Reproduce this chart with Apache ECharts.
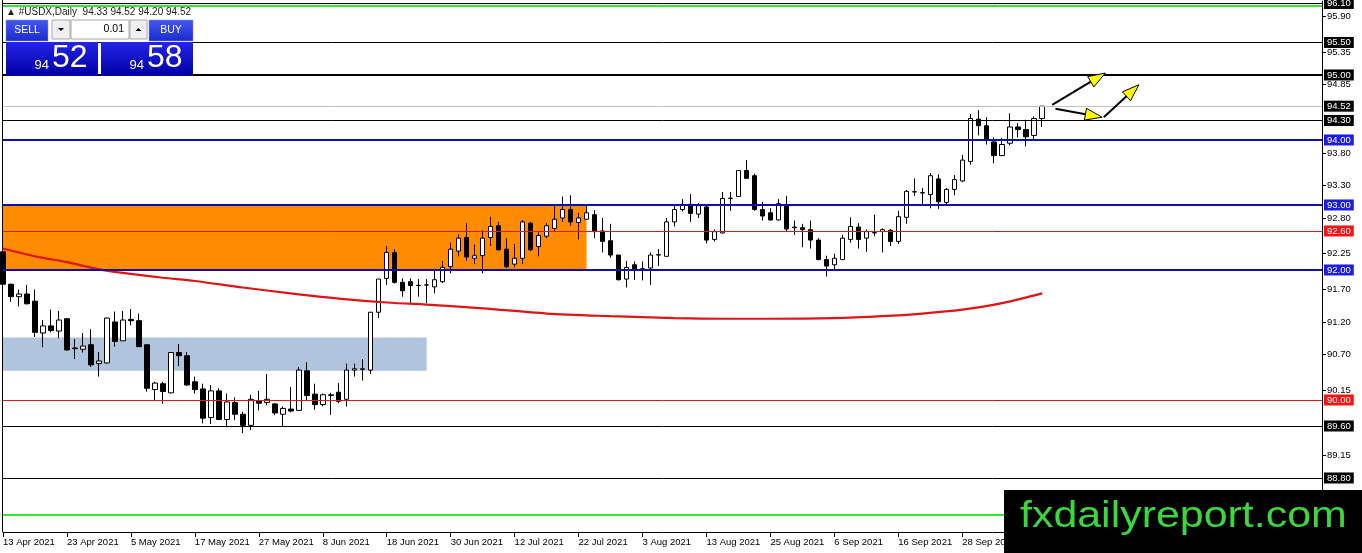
<!DOCTYPE html>
<html>
<head>
<meta charset="utf-8">
<title>#USDX,Daily</title>
<script src="https://cdn.jsdelivr.net/npm/echarts@6/dist/echarts.min.js"></script>
<style>
html, body { margin: 0; padding: 0; background: #fff; }
#main { width: 1362px; height: 553px; }
</style>
</head>
<body>
<div id="main"></div>
<script>
// daily bars 13 Apr 2021 .. 12 Oct 2021 (131 bars)
var opens = [92.28,91.78,91.59,91.63,91.52,91.03,91.14,91.06,91.25,90.79,
    90.78,90.85,90.56,90.57,91.20,90.91,91.24,91.22,90.85,90.16,
    90.25,90.11,90.73,90.68,90.28,90.17,89.73,90.14,89.70,89.96,
    89.78,89.61,89.99,89.96,89.94,89.78,89.86,89.84,90.45,90.09,
    89.93,90.07,90.12,90.01,90.46,90.47,90.46,91.35,91.87,92.27,
    91.81,91.82,91.76,91.77,91.74,91.82,92.05,92.29,92.50,92.18,
    92.22,92.50,92.68,92.32,92.09,92.18,92.72,92.36,92.52,92.64,
    92.80,92.93,92.73,92.78,92.85,92.60,92.45,92.23,91.86,92.08,
    92.02,92.03,92.23,92.21,92.74,92.93,93.01,92.86,92.97,92.47,
    92.57,93.10,93.13,93.53,93.45,92.93,92.88,92.77,92.99,92.66,
    92.65,92.62,92.46,92.16,92.08,92.16,92.47,92.66,92.49,92.57,
    92.59,92.61,92.44,92.81,93.20,93.19,93.16,93.40,93.04,93.24,
    93.37,93.67,94.32,94.22,93.97,93.76,93.95,94.20,94.16,94.07,
    94.33];
var highs = [92.32,91.79,91.70,91.77,91.70,91.23,91.39,91.37,91.26,90.94,
    91.03,91.09,90.74,91.27,91.36,91.37,91.40,91.33,90.85,90.28,
    90.28,90.74,90.86,90.74,90.36,90.25,90.23,90.18,90.10,90.04,
    89.82,90.08,90.14,90.40,89.95,89.90,90.20,90.51,90.58,90.25,
    90.10,90.11,90.26,90.56,90.56,90.63,91.35,91.86,92.37,92.32,
    91.87,91.87,91.86,91.86,91.99,92.14,92.42,92.55,92.72,92.39,
    92.61,92.82,92.74,92.49,92.40,92.77,92.74,92.58,92.72,92.99,
    93.13,93.15,92.88,92.99,92.92,92.80,92.71,92.23,92.14,92.13,
    92.13,92.27,92.32,92.80,93.00,93.09,93.17,93.03,92.99,92.62,
    93.20,93.20,93.53,93.69,93.48,93.05,92.95,93.09,93.14,92.76,
    92.71,92.76,92.49,92.22,92.25,92.54,92.81,92.72,92.62,92.85,
    92.64,92.63,92.91,93.23,93.41,93.26,93.49,93.47,93.26,93.46,
    93.77,94.40,94.46,94.35,94.04,94.03,94.41,94.26,94.31,94.36,
    94.52];
var lows = [91.75,91.51,91.44,91.47,90.97,90.81,91.04,90.95,90.76,90.63,
    90.73,90.51,90.36,90.56,90.82,90.91,91.15,90.82,90.13,89.99,
    89.94,90.10,90.52,90.22,90.10,89.64,89.63,89.69,89.58,89.69,
    89.49,89.54,89.84,89.92,89.77,89.60,89.81,89.84,89.99,89.85,
    89.90,89.77,89.95,89.90,90.36,90.30,90.40,91.26,91.77,91.79,
    91.59,91.49,91.59,91.49,91.64,91.80,91.95,92.21,92.14,92.09,
    91.95,92.37,92.30,92.03,92.04,92.09,92.29,92.21,92.49,92.59,
    92.74,92.68,92.47,92.78,92.49,92.27,92.19,91.84,91.73,91.85,
    91.84,91.77,92.06,92.21,92.67,92.90,92.74,92.80,92.41,92.44,
    92.56,92.91,93.12,93.41,92.91,92.76,92.76,92.76,92.59,92.54,
    92.35,92.33,92.15,91.90,92.00,92.15,92.42,92.33,92.28,92.52,
    92.27,92.37,92.40,92.71,93.14,93.00,92.95,92.94,92.99,93.15,
    93.35,93.62,94.07,93.93,93.64,93.75,93.92,94.04,93.90,94.00,
    94.20];
var closes = [91.78,91.59,91.63,91.48,91.04,91.14,91.07,91.23,90.77,90.80,
    90.83,90.54,90.60,91.26,90.90,91.23,91.22,90.82,90.18,90.26,
    90.13,90.73,90.68,90.23,90.16,89.72,90.14,89.70,89.97,89.78,
    89.61,90.01,89.95,90.01,89.80,89.87,89.83,90.46,90.07,89.93,
    90.08,90.08,89.98,90.46,90.48,90.48,91.35,91.86,92.27,91.81,
    91.68,91.76,91.765,91.77,91.85,92.04,92.32,92.49,92.20,92.22,
    92.49,92.67,92.31,92.05,92.18,92.74,92.31,92.53,92.68,92.78,
    92.93,92.74,92.80,92.88,92.59,92.44,92.23,91.85,92.04,92.02,
    92.00,92.23,92.235,92.74,92.93,93.01,92.87,92.99,92.46,92.59,
    93.10,93.105,93.53,93.41,92.93,92.83,92.77,93.02,92.63,92.65,
    92.62,92.46,92.16,92.06,92.18,92.49,92.67,92.47,92.59,92.575,
    92.62,92.44,92.82,93.21,93.205,93.185,93.45,93.05,93.24,93.39,
    93.69,94.33,94.22,94.01,93.76,93.93,94.20,94.16,94.05,94.33,
    94.52];

// moving average, read at a few bars
var maIdx = [0, 4, 8, 12, 16, 20, 24, 30, 36, 42, 48, 54, 60, 68, 76, 84, 90, 96, 104, 110, 115, 120, 125, 130];
var maVal = [92.33, 92.21, 92.12, 92.01, 91.94, 91.88, 91.83, 91.73, 91.64, 91.56, 91.50, 91.46, 91.41,
    91.33, 91.29, 91.26, 91.25, 91.25, 91.26, 91.29, 91.33, 91.39, 91.49, 91.64];

// horizontal levels
var blackLevels = [96.10, 95.50, 94.30, 89.60, 88.80];
var thickLevels = [95.00];
var bidLevels = [94.52];
var blueLevels = [94.00, 93.00, 92.00];
var redLevels = [92.60, 90.00];
var greenLevels = [96.06, 88.24];

// zones: start bar, end bar, low, high
var zoneStart = [0, 0];
var zoneEnd = [73, 53];
var zoneLow = [92.00, 90.45];
var zoneHigh = [93.00, 90.96];

// arrows (bar, price)
var arrowFromX = [131.25, 131.66, 137.7];
var arrowFromY = [94.54, 94.48, 94.35];
var arrowToX = [137.9, 137.5, 142.1];
var arrowToY = [95.03, 94.35, 94.85];

var axisValues = [95.90, 95.35, 94.85, 93.80, 93.30, 92.80, 92.25, 91.70, 91.20, 90.70, 90.15, 89.15];
var tickLabels = ['13 Apr 2021', '23 Apr 2021', '5 May 2021', '17 May 2021', '27 May 2021', '8 Jun 2021',
    '18 Jun 2021', '30 Jun 2021', '12 Jul 2021', '22 Jul 2021', '3 Aug 2021', '13 Aug 2021',
    '25 Aug 2021', '6 Sep 2021', '16 Sep 2021', '28 Sep 2021', '8 Oct 2021', '20 Oct 2021',
    '1 Nov 2021', '11 Nov 2021', '23 Nov 2021'];

var totalSlots = 166;
var FONT = 'Liberation Sans, Arial, sans-serif';

var categories = [];
var bars = [];
for (var i = 0; i < totalSlots; i++) {
    categories.push(String(i));
    if (i < opens.length) {
        bars.push([opens[i], closes[i], lows[i], highs[i]]);
    } else {
        bars.push('-');
    }
}

function levelItems(values, color, width, box, showLabel) {
    return values.map(function (v) {
        return {
            yAxis: v,
            lineStyle: { color: color, width: width, type: 'solid' },
            label: {
                show: showLabel,
                position: 'end',
                distance: 2,
                formatter: function () { return v.toFixed(2); },
                color: '#fff',
                backgroundColor: box,
                padding: [1, 3, 0, 3],
                fontSize: 9.5,
                fontFamily: FONT
            }
        };
    });
}

var levelData = []
    .concat(levelItems(greenLevels, '#33e633', 2, null, false))
    .concat(levelItems(blackLevels, '#000', 1, '#000', true))
    .concat(levelItems(thickLevels, '#000', 2, '#000', true))
    .concat(levelItems(bidLevels, '#c0c0c0', 1, '#000', true))
    .concat(levelItems(redLevels, '#e01818', 1, '#ff1010', true))
    .concat(levelItems(blueLevels, '#1010a8', 2, '#1c1ce6', true));

var zoneColors = ['#ff8c00', '#b0c4de'];
var zoneData = zoneStart.map(function (s, k) {
    return [
        { xAxis: s, yAxis: zoneLow[k], itemStyle: { color: zoneColors[k], opacity: 1 } },
        { xAxis: zoneEnd[k], yAxis: zoneHigh[k] }
    ];
});

var maData = maIdx.map(function (x, k) { return [x, maVal[k]]; });
var arrowData = arrowFromX.map(function (x, k) { return [x, arrowFromY[k], arrowToX[k], arrowToY[k]]; });

function blueGrad(a, b) {
    return new echarts.graphic.LinearGradient(0, 0, 0, 1, [
        { offset: 0, color: a }, { offset: 1, color: b }
    ]);
}

var dom = document.getElementById('main');
var myChart = echarts.init(dom);

var option = {
    animation: false,
    backgroundColor: '#fff',
    grid: { left: 3, right: 40, top: 1, bottom: 21 },
    xAxis: [
        {
            type: 'category',
            data: categories,
            boundaryGap: false,
            axisLine: { onZero: false, lineStyle: { color: '#000', width: 1 } },
            axisTick: {
                show: true,
                length: 5,
                interval: function (idx) { return idx % 8 === 0; },
                lineStyle: { color: '#000' }
            },
            axisLabel: {
                interval: function (idx) { return idx % 8 === 0; },
                formatter: function (val, idx) { return tickLabels[idx / 8] || ''; },
                align: 'left',
                margin: 5,
                color: '#000',
                fontSize: 9.5,
                fontFamily: FONT
            },
            splitLine: { show: false }
        },
        { type: 'value', min: 0, max: totalSlots - 1, show: false }
    ],
    yAxis: {
        type: 'value',
        position: 'right',
        min: 87.969,
        max: 96.138,
        splitLine: { show: false },
        axisLine: { show: true, onZero: false, lineStyle: { color: '#000' } },
        axisTick: { show: true, length: 4, customValues: axisValues, lineStyle: { color: '#000' } },
        axisLabel: {
            customValues: axisValues,
            formatter: function (v) { return v.toFixed(2); },
            color: '#000',
            margin: 5,
            fontSize: 9.5,
            fontFamily: FONT
        }
    },
    series: [
        {
            name: 'zones',
            type: 'line',
            xAxisIndex: 1,
            data: [],
            z: 1,
            silent: true,
            markArea: { silent: true, data: zoneData }
        },
        {
            name: 'levels',
            type: 'line',
            xAxisIndex: 1,
            data: [],
            z: 2,
            silent: true,
            markLine: { silent: true, symbol: 'none', animation: false, data: levelData }
        },
        {
            name: '#USDX',
            type: 'candlestick',
            data: bars,
            barWidth: 5,
            z: 3,
            itemStyle: {
                color: '#fff',
                color0: '#000',
                borderColor: '#000',
                borderColor0: '#000',
                borderWidth: 1
            }
        },
        {
            name: 'MA',
            type: 'line',
            xAxisIndex: 1,
            data: maData,
            smooth: 0.3,
            symbol: 'none',
            z: 4,
            lineStyle: { color: '#e01414', width: 2.2 }
        },
        {
            name: 'arrows',
            type: 'custom',
            xAxisIndex: 1,
            data: arrowData,
            z: 5,
            silent: true,
            renderItem: function (params, api) {
                var a = api.coord([api.value(0), api.value(1)]);
                var b = api.coord([api.value(2), api.value(3)]);
                var dx = b[0] - a[0], dy = b[1] - a[1];
                var len = Math.sqrt(dx * dx + dy * dy);
                var ux = dx / len, uy = dy / len;
                var L = 17, W = 6;
                var bx = b[0] - ux * L, by = b[1] - uy * L;
                return {
                    type: 'group',
                    children: [
                        { type: 'line', shape: { x1: a[0], y1: a[1], x2: bx + ux * 3, y2: by + uy * 3 },
                          style: { stroke: '#000', lineWidth: 2 } },
                        { type: 'polygon',
                          shape: { points: [[b[0], b[1]], [bx - uy * W, by + ux * W], [bx + uy * W, by - ux * W]] },
                          style: { fill: '#ffff00', stroke: '#000', lineWidth: 1 } }
                    ]
                };
            }
        }
    ],
    graphic: [
        { type: 'line', z: 50, shape: { x1: 2.5, y1: 0, x2: 2.5, y2: 532 }, style: { stroke: '#000', lineWidth: 1 } },
        { type: 'text', z: 60, x: 6, y: 12,
          style: { text: '\u25B2 #USDX,Daily  94.33 94.52 94.20 94.52', fill: '#222', font: '10px ' + FONT, verticalAlign: 'middle' } },
        // trade panel
        { type: 'rect', z: 60, shape: { x: 6, y: 20, width: 42, height: 21 }, style: { fill: blueGrad('#4257f0', '#1b2bd0'), stroke: '#8090ff', lineWidth: 0.5 } },
        { type: 'text', z: 61, x: 27, y: 30.5, style: { text: 'SELL', fill: '#fff', font: '10.5px ' + FONT, align: 'center', verticalAlign: 'middle' } },
        { type: 'rect', z: 60, shape: { x: 52, y: 20, width: 18, height: 19 }, style: { fill: '#f0f0f0', stroke: '#a8a8a8', lineWidth: 1 } },
        { type: 'polygon', z: 61, shape: { points: [[58, 28], [64, 28], [61, 31]] }, style: { fill: '#000' } },
        { type: 'rect', z: 60, shape: { x: 71, y: 20, width: 58, height: 19 }, style: { fill: '#fff', stroke: '#a8a8a8', lineWidth: 1 } },
        { type: 'text', z: 61, x: 124, y: 29.5, style: { text: '0.01', fill: '#000', font: '10.5px ' + FONT, align: 'right', verticalAlign: 'middle' } },
        { type: 'rect', z: 60, shape: { x: 130, y: 20, width: 17, height: 19 }, style: { fill: '#f0f0f0', stroke: '#a8a8a8', lineWidth: 1 } },
        { type: 'polygon', z: 61, shape: { points: [[135.5, 31], [141.5, 31], [138.5, 28]] }, style: { fill: '#000' } },
        { type: 'rect', z: 60, shape: { x: 149, y: 20, width: 44, height: 21 }, style: { fill: blueGrad('#4257f0', '#1b2bd0'), stroke: '#8090ff', lineWidth: 0.5 } },
        { type: 'text', z: 61, x: 171, y: 30.5, style: { text: 'BUY', fill: '#fff', font: '10.5px ' + FONT, align: 'center', verticalAlign: 'middle' } },
        { type: 'rect', z: 60, shape: { x: 6, y: 42, width: 92, height: 34 }, style: { fill: blueGrad('#2424e8', '#0000a4') } },
        { type: 'rect', z: 60, shape: { x: 101, y: 42, width: 92, height: 34 }, style: { fill: blueGrad('#2424e8', '#0000a4') } },
        { type: 'text', z: 61, x: 49, y: 72, style: { text: '94', fill: '#fff', font: '13px ' + FONT, align: 'right', verticalAlign: 'bottom' } },
        { type: 'text', z: 61, x: 52, y: 74.5, style: { text: '52', fill: '#fff', font: '32px ' + FONT, align: 'left', verticalAlign: 'bottom' } },
        { type: 'text', z: 61, x: 144, y: 72, style: { text: '94', fill: '#fff', font: '13px ' + FONT, align: 'right', verticalAlign: 'bottom' } },
        { type: 'text', z: 61, x: 147, y: 74.5, style: { text: '58', fill: '#fff', font: '32px ' + FONT, align: 'left', verticalAlign: 'bottom' } },
        // watermark
        { type: 'rect', z: 90, shape: { x: 1004, y: 490, width: 358, height: 63 }, style: { fill: '#000' } },
        { type: 'text', z: 91, x: 1020, y: 517, scaleX: 1.16, originX: 0, originY: 0,
          style: { text: 'fxdailyreport.com', fill: '#3ad83a', font: '37px ' + FONT, align: 'left', verticalAlign: 'middle' } }
    ]
};

myChart.setOption(option);
</script>
</body>
</html>
